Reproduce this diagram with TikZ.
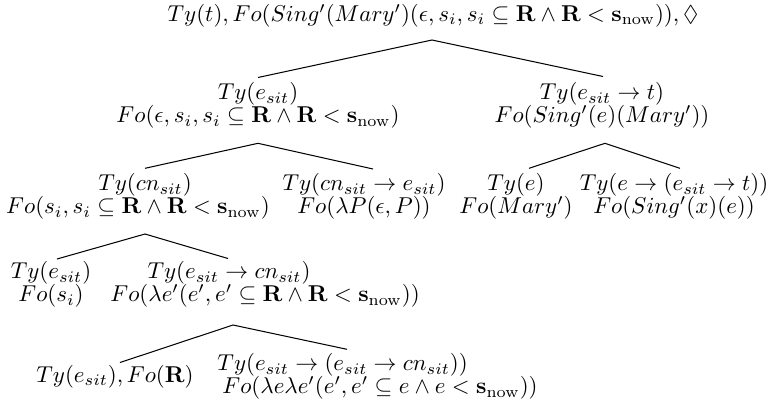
\documentclass[tikz,border=0pt]{standalone}
\usepackage{amsmath,amssymb}
\newcommand{\snow}{\mathbf{s}_{\mathrm{now}}}
\begin{document}
\begin{tikzpicture}[x=0.4363pt,y=-0.4363pt,
  lbl/.style={inner sep=0pt,text height=6.5pt,text depth=1.8pt},
  edge/.style={line width=0.45pt}]
\useasboundingbox (0,0) rectangle (770,407);
% root
\node[lbl] (root) at (433,16) {$Ty(t), Fo(Sing'(Mary')(\epsilon, s_i, s_i \subseteq \mathbf{R} \wedge \mathbf{R} < \snow)), \Diamond$};
% level 1
\node[lbl] (n1t) at (258,94.5) {$Ty(e_{sit})$};
\node[lbl] (n1f) at (258,117.5) {$Fo(\epsilon, s_i, s_i \subseteq \mathbf{R} \wedge \mathbf{R} < \snow)$};
\node[lbl] (n2t) at (602,94.5) {$Ty(e_{sit} \rightarrow t)$};
\node[lbl] (n2f) at (602,117.5) {$Fo(Sing'(e)(Mary'))$};
% level 2
\node[lbl] (n11t) at (145,185.5) {$Ty(cn_{sit})$};
\node[lbl] (n11f) at (138,208.5) {$Fo(s_i, s_i \subseteq \mathbf{R} \wedge \mathbf{R} < \snow)$};
\node[lbl] (n12t) at (364,185.5) {$Ty(cn_{sit} \rightarrow e_{sit})$};
\node[lbl] (n12f) at (364,208.5) {$Fo(\lambda P(\epsilon, P))$};
\node[lbl] (n21t) at (516,185.5) {$Ty(e)$};
\node[lbl] (n21f) at (516,208.5) {$Fo(Mary')$};
\node[lbl] (n22t) at (674,185.5) {$Ty(e \rightarrow (e_{sit} \rightarrow t))$};
\node[lbl] (n22f) at (674,208.5) {$Fo(Sing'(x)(e))$};
% level 3
\node[lbl] (n111t) at (51,273.5) {$Ty(e_{sit})$};
\node[lbl] (n111f) at (51,296.5) {$Fo(s_i)$};
\node[lbl] (n112t) at (229,273.5) {$Ty(e_{sit} \rightarrow cn_{sit})$};
\node[lbl,anchor=west] (n112f) at (110,296.5) {$Fo(\lambda e'(e', e' \subseteq \mathbf{R} \wedge \mathbf{R} < \snow))$};
% level 4
\node[lbl] (n1121) at (115,377) {$Ty(e_{sit}), Fo(\mathbf{R})$};
\node[lbl,anchor=west] (n1122t) at (217,365.5) {$Ty(e_{sit} \rightarrow (e_{sit} \rightarrow cn_{sit}))$};
\node[lbl,anchor=west] (n1122f) at (222,388.5) {$Fo(\lambda e \lambda e'(e', e' \subseteq e \wedge e < \snow))$};
% connector points
\coordinate (r0) at (432,40);
\coordinate (r1) at (258,77.5);
\coordinate (r2) at (603,76.5);
\coordinate (a0) at (258,143.3);
\coordinate (a1) at (145,168.3);
\coordinate (a2) at (373,169);
\coordinate (b0) at (605,143.3);
\coordinate (b1) at (529,168.3);
\coordinate (b2) at (680,168.3);
\coordinate (c0) at (145,234);
\coordinate (c1) at (57,259);
\coordinate (c2) at (228,258.5);
\coordinate (d0) at (233,325);
\coordinate (d1) at (120,362.5);
\coordinate (d2) at (347,349.3);
\draw[edge] (r1) -- (r0) -- (r2);
\draw[edge] (a1) -- (a0) -- (a2);
\draw[edge] (b1) -- (b0) -- (b2);
\draw[edge] (c1) -- (c0) -- (c2);
\draw[edge] (d1) -- (d0) -- (d2);
\end{tikzpicture}
\end{document}
